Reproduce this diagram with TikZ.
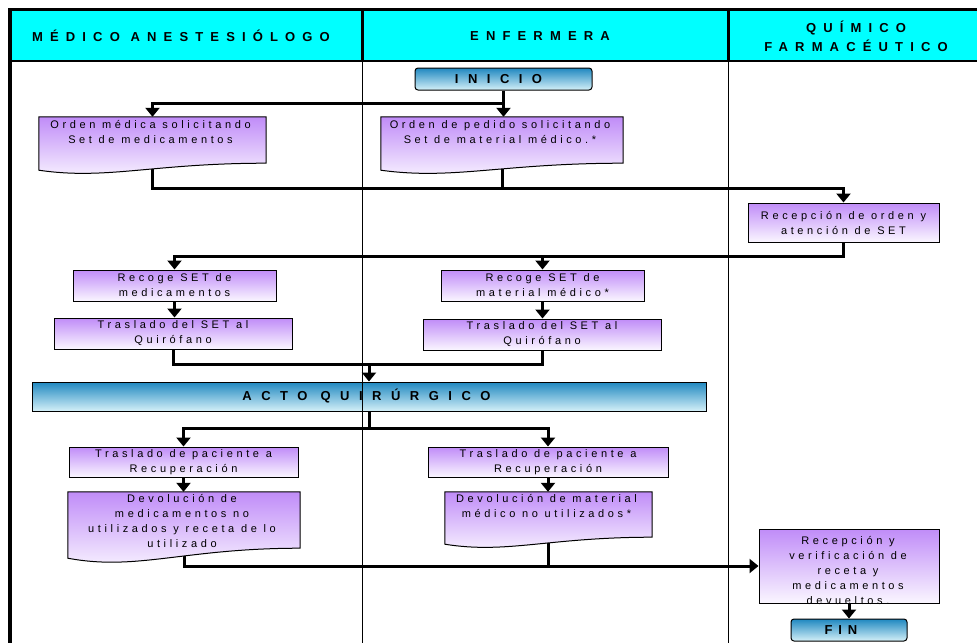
\documentclass[tikz,border=0pt]{standalone}
\usepackage{fontspec}
\setmainfont{Liberation Sans}
\newfontfamily\boxfont[LetterSpace=33]{Liberation Sans}
\newfontfamily\hdrfont[LetterSpace=55]{Liberation Sans}
\newfontfamily\titlefont[LetterSpace=73]{Liberation Sans}
\newfontfamily\finfont[LetterSpace=45]{Liberation Sans}
\usetikzlibrary{arrows.meta,calc,backgrounds}
\definecolor{hdrcyan}{HTML}{00FFFF}
\definecolor{purtop}{HTML}{C08CF8}
\definecolor{purbot}{HTML}{FAF6FF}
\definecolor{bltop}{HTML}{2088C0}
\definecolor{blbot}{HTML}{D4F0F8}
\tikzset{
  proc/.style={draw=black, line width=1pt, top color=purtop, bottom color=purbot,
    font=\boxfont\fontsize{11}{15}\selectfont, align=center, inner sep=0pt},
  docn/.style={draw=none, inner sep=0pt},
  docshade/.style={draw=black, line width=1pt, top color=purtop, bottom color=purbot},
  doctext/.style={font=\boxfont\fontsize{11}{15}\selectfont, align=center, inner sep=0pt, anchor=north},
  term/.style={draw=black, line width=1pt, top color=bltop, bottom color=blbot,
    font=\titlefont\bfseries\fontsize{13}{14}\selectfont, inner sep=0pt},
  hdr/.style={font=\hdrfont\bfseries\fontsize{13}{19}\selectfont, align=center, inner sep=0pt},
  line/.style={line width=3pt},
  flow/.style={line width=3pt, -{Triangle[width=14pt,length=9pt]}},
  lane/.style={line width=1pt},
}
\newcommand\docbox[3]{%
  \path[docshade] (#1.north west) -- (#1.north east) -- ($(#1.south east)+(0,#2)$)
    .. controls ($(#1.south west)!0.5!(#1.south east)+(0,#2)$)
    and ($(#1.south west)!0.3!(#1.south east)+(0,#3)$) .. (#1.south west) -- cycle;}
\begin{document}
\begin{tikzpicture}[x=1pt,y=1pt]
\useasboundingbox (0,0) rectangle (977,-643);
% header
\fill[hdrcyan] (10,-10) rectangle (977,-61);
\node[hdr] (hd1) at (181,-36) {MÉDICO ANESTESIÓLOGO};
\node[hdr] (hd2) at (540,-36) {ENFERMERA};
\node[hdr] (hd3) at (856,-36) {QUÍMICO\\FARMACÉUTICO};
% level coordinates
\coordinate (y103) at (0,-103);
\coordinate (y188) at (0,-188);
\coordinate (y256) at (0,-256);
\coordinate (y364) at (0,-364);
\coordinate (y428) at (0,-428);
% terminals
\node[term, rounded corners=3pt, minimum width=177pt, minimum height=22pt] (inicio) at (503.5,-79) {\hspace*{-10pt}INICIO};
\node[term, minimum width=674pt, minimum height=29pt] (acto) at (369,-396.5) {\hspace*{-5pt}ACTO QUIRÚRGICO};
\node[term, rounded corners=3pt, minimum width=116pt, minimum height=22pt, font=\finfont\bfseries\fontsize{13}{14}\selectfont] (fin) at (849,-630) {\hspace*{-16pt}FIN};
% document boxes
\node[docn, minimum width=227pt, minimum height=53pt] (ord1) at (152.5,-143.5) {};
\docbox{ord1}{7}{-10}
\node[doctext] (ord1t) at ($(ord1.north)+(-2,-3.5)$) {Orden médica solicitando\\Set de medicamentos};
\node[docn, minimum width=242pt, minimum height=53pt] (ord2) at (502,-143.5) {};
\docbox{ord2}{7}{-10}
\node[doctext] (ord2t) at ($(ord2.north)+(-2,-3.5)$) {Orden de pedido solicitando\\Set de material médico.*};
\node[docn, minimum width=232pt, minimum height=66pt] (dv1) at (184,-525) {};
\docbox{dv1}{10}{-13}
\node[doctext] (dv1t) at ($(dv1.north)+(-2,-2.5)$) {Devolución de\\medicamentos no\\utilizados y receta de lo\\utilizado};
\node[docn, minimum width=207pt, minimum height=52pt] (dv2) at (548.5,-518) {};
\docbox{dv2}{7}{-10}
\node[doctext] (dv2t) at ($(dv2.north)+(-2,-2.5)$) {Devolución de material\\médico no utilizados*};
% process boxes
\node[proc, minimum width=191pt, minimum height=39pt] (rec1) at (843.5,-222.5) {Recepción de orden y\\atención de SET};
\node[proc, minimum width=203pt, minimum height=31pt] (rcg1) at (174.5,-285.5) {Recoge SET de\\medicamentos};
\node[proc, minimum width=203pt, minimum height=31pt] (rcg2) at (542.5,-285.5) {Recoge SET de\\material médico*};
\node[proc, minimum width=238pt, minimum height=31pt] (tr1) at (173,-333.5) {Traslado del SET al\\Quirófano};
\node[proc, minimum width=238pt, minimum height=31pt] (tr2) at (542,-334.5) {Traslado del SET al\\Quirófano};
\node[proc, minimum width=229pt, minimum height=30pt] (tp1) at (183.5,-462) {Traslado de paciente a\\Recuperación};
\node[proc, minimum width=240pt, minimum height=30pt] (tp2) at (548,-462) {Traslado de paciente a\\Recuperación};
\node[proc, minimum width=180pt, minimum height=74pt] (rec2) at (849,-566) {};
\node[doctext, anchor=center] (rec2t) at ($(rec2.center)+(-1,-4)$) {Recepción y\\verificación de\\receta y\\medicamentos\\devueltos.};
% connectors
\begin{scope}[on background layer]
\draw[flow] (inicio.south) -- (inicio.south |- ord2.north);
\draw[flow] (inicio.south |- y103) -| (ord1.north);
\draw[flow] (ord1.center) |- (y188 -| rec1) -- (rec1.north);
\draw[line] (ord2.center) -- (ord2.center |- y188);
\draw[flow] (rec1.south) |- (y256 -| rcg1) -- (rcg1.north);
\draw[flow] (y256 -| rcg2) -- (rcg2.north);
\draw[flow] (rcg1.south) -- (rcg1.south |- tr1.north);
\draw[flow] (rcg2.south) -- (rcg2.south |- tr2.north);
\draw[line] (tr1.south) |- (y364 -| tr2) -- (tr2.south);
\draw[flow] (y364 -| acto) -- (acto.north);
\draw[line] (acto.south) -- (acto.south |- y428);
\draw[flow] (acto.south |- y428) -| (tp1.north);
\draw[flow] (acto.south |- y428) -| (tp2.north);
\draw[flow] (tp1.south) -- (tp1.south |- dv1.north);
\draw[flow] (tp2.south) -- (tp2.south |- dv2.north);
\draw[flow] (dv1.center) |- (rec2.west);
\draw[line] (dv2.center) -- (dv2.center |- rec2.west);
\draw[flow] (rec2.south) -- (rec2.south |- fin.north);
\end{scope}
% frame and lanes
\draw[lane] (362,-61) -- (362,-643);
\draw[lane] (728,-61) -- (728,-643);
\draw[line width=3pt] (362,-9.5) -- (362,-61);
\draw[line width=3pt] (728,-9.5) -- (728,-61);
\draw[line width=2pt] (10,-61) -- (977,-61);
\draw[line width=3pt] (8,-9.5) -- (977,-9.5);
\draw[line width=4pt] (10,-8) -- (10,-643);
\end{tikzpicture}
\end{document}
